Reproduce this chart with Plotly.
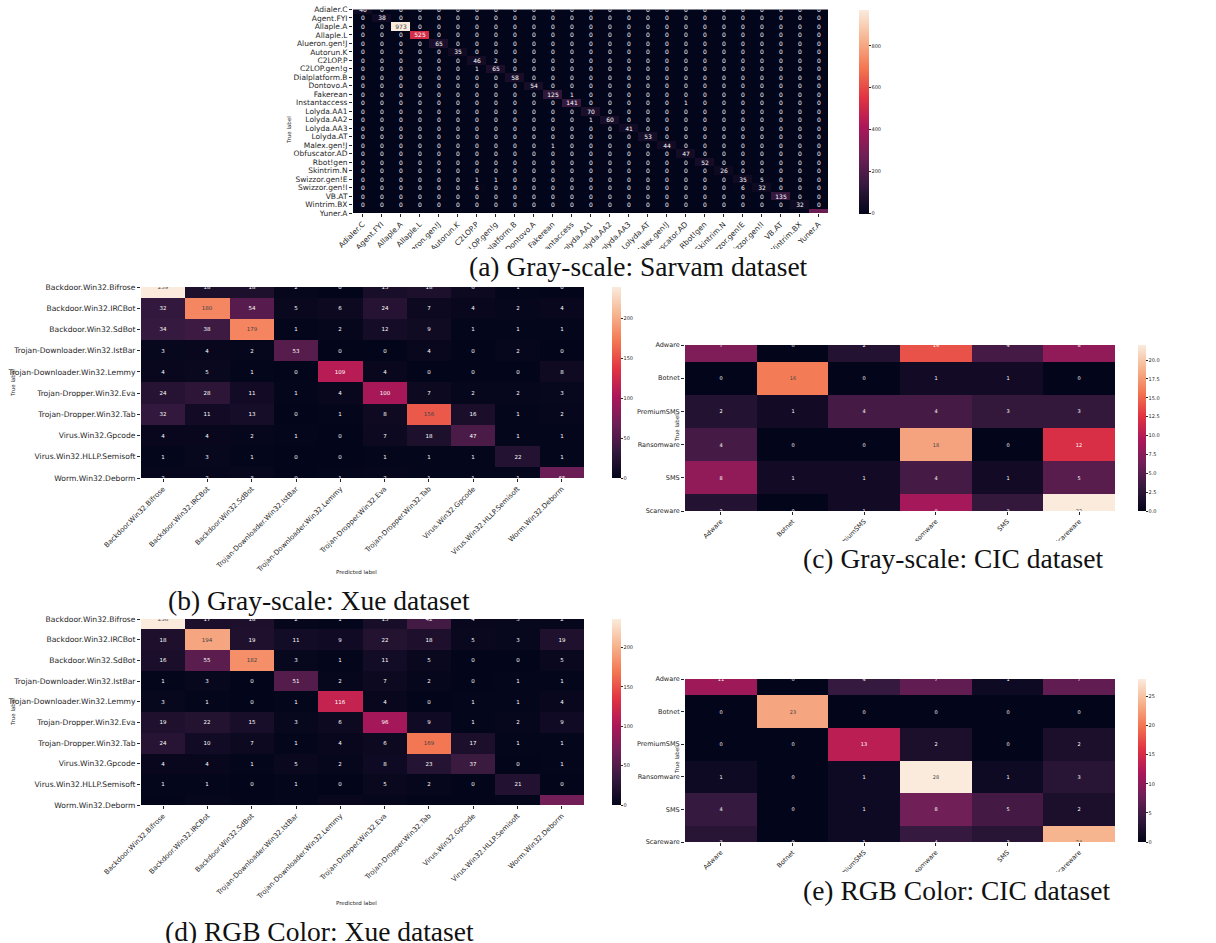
import plotly.graph_objects as go

W, H = 1216, 943

# ---------------- data ----------------
sarvam_labels = ["Adialer.C", "Agent.FYI", "Allaple.A", "Allaple.L", "Alueron.gen!J",
                 "Autorun.K", "C2LOP.P", "C2LOP.gen!g", "Dialplatform.B", "Dontovo.A",
                 "Fakerean", "Instantaccess", "Lolyda.AA1", "Lolyda.AA2", "Lolyda.AA3",
                 "Lolyda.AT", "Malex.gen!J", "Obfuscator.AD", "Rbot!gen", "Skintrim.N",
                 "Swizzor.gen!E", "Swizzor.gen!I", "VB.AT", "Wintrim.BX", "Yuner.A"]
sarvam_diag = [40, 38, 973, 525, 65, 35, 46, 65, 58, 54, 125, 141, 70, 60, 41,
               53, 44, 47, 52, 26, 35, 32, 135, 32, 264]
# (true row, predicted column, count) for the misclassified samples
sarvam_off = [(6, 7, 2), (7, 6, 1), (10, 11, 1), (11, 17, 1), (13, 12, 1),
              (16, 10, 1), (20, 6, 1), (20, 7, 1), (20, 21, 5), (21, 6, 6), (21, 20, 6)]

xue_labels = ["Backdoor.Win32.Bifrose", "Backdoor.Win32.IRCBot", "Backdoor.Win32.SdBot",
              "Trojan-Downloader.Win32.IstBar", "Trojan-Downloader.Win32.Lemmy",
              "Trojan-Dropper.Win32.Eva", "Trojan-Dropper.Win32.Tab", "Virus.Win32.Gpcode",
              "Virus.Win32.HLLP.Semisoft", "Worm.Win32.Deborm"]
xue_gray = [
    [239, 18, 18, 2, 0, 15, 18, 6, 1, 0],
    [32, 180, 54, 5, 6, 24, 7, 4, 2, 4],
    [34, 38, 179, 1, 2, 12, 9, 1, 1, 1],
    [3, 4, 2, 53, 0, 0, 4, 0, 2, 0],
    [4, 5, 1, 0, 109, 4, 0, 0, 0, 8],
    [24, 28, 11, 1, 4, 100, 7, 2, 2, 3],
    [32, 11, 13, 0, 1, 8, 156, 16, 1, 2],
    [4, 4, 2, 1, 0, 7, 18, 47, 1, 1],
    [1, 3, 1, 0, 0, 1, 1, 1, 22, 1],
    [2, 2, 3, 0, 1, 2, 1, 1, 1, 65],
]
xue_rgb = [
    [236, 17, 18, 2, 1, 15, 42, 4, 3, 2],
    [18, 194, 19, 11, 9, 22, 18, 5, 3, 19],
    [16, 55, 182, 3, 1, 11, 5, 0, 0, 5],
    [1, 3, 0, 51, 2, 7, 2, 0, 1, 1],
    [3, 1, 0, 1, 116, 4, 0, 1, 1, 4],
    [19, 22, 15, 3, 6, 96, 9, 1, 2, 9],
    [24, 10, 7, 1, 4, 6, 169, 17, 1, 1],
    [4, 4, 1, 5, 2, 8, 23, 37, 0, 1],
    [1, 1, 0, 1, 0, 5, 2, 0, 21, 0],
    [0, 2, 0, 1, 4, 2, 0, 0, 1, 69],
]

cic_labels = ["Adware", "Botnet", "PremiumSMS", "Ransomware", "SMS", "Scareware"]
cic_gray = [
    [7, 0, 2, 14, 4, 8],
    [0, 16, 0, 1, 1, 0],
    [2, 1, 4, 4, 3, 3],
    [4, 0, 0, 18, 0, 12],
    [8, 1, 1, 4, 1, 5],
    [2, 0, 1, 9, 3, 22],
]
cic_rgb = [
    [11, 0, 4, 7, 1, 7],
    [0, 23, 0, 0, 0, 0],
    [0, 0, 13, 2, 0, 2],
    [1, 0, 1, 28, 1, 3],
    [4, 0, 1, 8, 5, 2],
    [3, 0, 1, 4, 3, 24],
]

captions = ["(a) Gray-scale: Sarvam dataset", "(b) Gray-scale: Xue dataset",
            "(c) Gray-scale: CIC dataset", "(d) RGB Color: Xue dataset",
            "(e) RGB Color: CIC dataset"]

# seaborn "rocket" colour map
rocket = [
    [0.0, "#03051a"], [0.143, "#35193e"], [0.286, "#701f57"], [0.429, "#ad1759"],
    [0.571, "#e13342"], [0.714, "#f37651"], [0.857, "#f6b48f"], [1.0, "#faebdd"],
]

sarvam = [[0] * len(sarvam_labels) for _ in sarvam_labels]
for i, v in enumerate(sarvam_diag):
    sarvam[i][i] = v
for r, c, v in sarvam_off:
    sarvam[r][c] = v

# ---------------- layout helpers (pixel boxes) ----------------
def xd(a, b):
    return [a / W, b / W]


def yd(top, bot):
    return [1 - bot / H, 1 - top / H]


TXT = "#262626"
FONT = "DejaVu Sans"

panels = [
    dict(z=sarvam, lab=sarvam_labels, box=(353, 828, 9.5, 213), cbx=859, cbt=10,
         tf=7.5, xf=7.5, cf=6, dtick=200, fmt="d"),
    dict(z=xue_gray, lab=xue_labels, box=(141, 584, 287, 478), cbx=612, cbt=9,
         tf=7.6, xf=7, cf=5.5, dtick=50, fmt="d"),
    dict(z=cic_gray, lab=cic_labels, box=(685, 1115, 345, 511), cbx=1138, cbt=8,
         tf=6.5, xf=6.5, cf=5, dtick=2.5, fmt=".1f"),
    dict(z=xue_rgb, lab=xue_labels, box=(141, 584, 619, 805), cbx=612, cbt=9,
         tf=7.6, xf=7, cf=5.5, dtick=50, fmt="d"),
    dict(z=cic_rgb, lab=cic_labels, box=(685, 1115, 679, 842), cbx=1138, cbt=8,
         tf=6.5, xf=6.5, cf=5, dtick=5, fmt="d"),
]

fig = go.Figure()
layout = {}
for k, p in enumerate(panels):
    n = len(p["lab"])
    x0, x1, top, bot = p["box"]
    idx = list(range(n))
    zmax = max(max(row) for row in p["z"])
    ax = "" if k == 0 else str(k + 1)
    fig.add_trace(go.Heatmap(
        z=p["z"], x=idx, y=idx, xaxis="x" + ax, yaxis="y" + ax,
        colorscale=rocket, zmin=0, zmax=zmax,
        texttemplate="%{z}", textfont=dict(size=p["cf"], family=FONT),
        hoverinfo="skip",
        colorbar=dict(
            x=p["cbx"] / W, xanchor="left", y=1 - top / H, yanchor="top",
            len=(bot - top) / H, lenmode="fraction", thickness=p["cbt"],
            xpad=0, ypad=0, outlinewidth=0, ticks="outside", ticklen=2,
            tickcolor=TXT, tickwidth=0.6, dtick=p["dtick"], tick0=0,
            tickformat=p["fmt"], tickfont=dict(size=5, color=TXT, family=FONT),
        ),
    ))
    layout["xaxis" + ax] = dict(
        domain=xd(x0, x1), anchor="y" + ax, range=[-0.5, n - 0.5],
        tickvals=idx, ticktext=p["lab"], tickangle=-45, ticks="outside",
        ticklen=3, tickwidth=0.6, tickcolor=TXT, showgrid=False, zeroline=False,
        showline=False, automargin=False,
        tickfont=dict(size=p["xf"], color=TXT, family=FONT),
    )
    layout["yaxis" + ax] = dict(
        domain=yd(top, bot), anchor="x" + ax, range=[n - 1, 0],
        tickvals=idx, ticktext=p["lab"], ticks="outside", ticklen=3,
        tickwidth=0.6, tickcolor=TXT, showgrid=False, zeroline=False,
        showline=False, automargin=False,
        tickfont=dict(size=p["tf"], color=TXT, family=FONT),
    )


def note(text, px, py, size, family=FONT, color=TXT, angle=0):
    return dict(x=px / W, y=1 - py / H, xref="paper", yref="paper",
                xanchor="center", yanchor="middle", text=text, textangle=angle,
                showarrow=False, font=dict(size=size, color=color, family=family))


annotations = []
# axis titles
for (px, py) in [(289, 130), (13, 383), (677, 428), (13, 712), (677, 760)]:
    annotations.append(note("True label", px, py, 5.5, angle=-90))
for (px, py) in [(356, 572), (356, 903)]:
    annotations.append(note("Predicted label", px, py, 5.5))
# sub-figure captions
for text, (px, py) in zip(captions, [(639, 266), (319, 600), (953, 558),
                                     (319, 931), (956, 890)]):
    annotations.append(note(text, px, py, 27.5, family="Liberation Serif", color="#111"))

# trimmed lower edges of the sub-figures (a), (c) and (e); captions sit on top
shapes = []
for (x0, x1, y0, y1) in [(260, 960, 249, 285), (640, 1216, 541, 600), (640, 1216, 872, 943)]:
    shapes.append(dict(type="rect", xref="paper", yref="paper", layer="above",
                       x0=x0 / W, x1=x1 / W, y0=1 - y1 / H, y1=1 - y0 / H,
                       fillcolor="white", line=dict(width=0)))

fig.update_layout(
    width=W, height=H, margin=dict(l=0, r=0, t=0, b=0, autoexpand=False),
    paper_bgcolor="white", plot_bgcolor="white", showlegend=False,
    annotations=annotations, shapes=shapes, **layout,
)

fig.write_html("out.html")
